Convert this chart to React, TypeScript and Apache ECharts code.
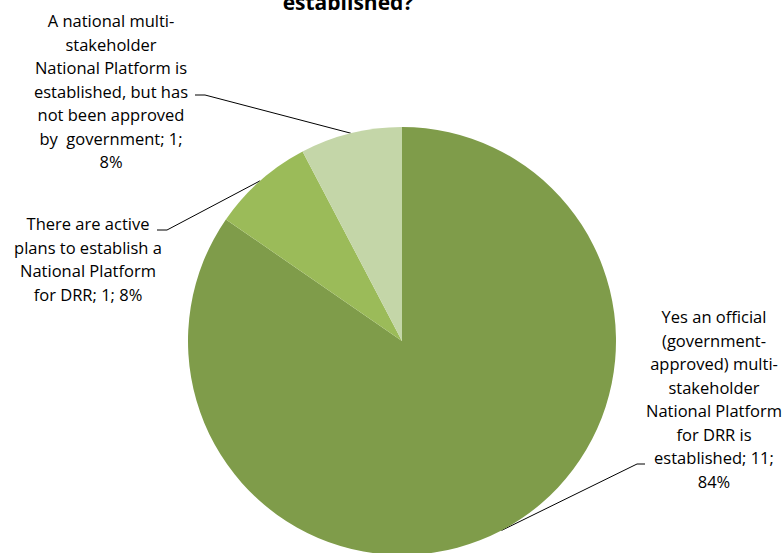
import React, { useEffect, useRef } from "react";
import * as echarts from "echarts";

const titleText = "established?";
const categories = [
  "Yes an official\n(government-\napproved) multi-\nstakeholder\nNational Platform\nfor DRR is\nestablished",
  "There are active\nplans to establish a\nNational Platform\nfor DRR",
  "A national multi-\nstakeholder\nNational Platform is\nestablished, but has\nnot been approved\nby  government",
];
const values = [11, 1, 1];
const percentOnNewLine = [true, false, true];
const colors = ["#7F9C4A", "#9BBB59", "#C4D6A8"];

// label anchor (centre) and leader elbow positions
const labelCenters = [
  [714, 399],
  [88, 259],
  [111, 91],
];
const elbows = [
  [[637, 464], [645, 464]],
  [[167, 230], [157, 230]],
  [[205, 95], [195, 95]],
];

export default function App() {
  const ref = useRef<HTMLDivElement>(null);
  useEffect(() => {
    if (!ref.current) return;
    const chart = echarts.init(ref.current, null, { renderer: "svg" });
    const font = "Open Sans";
    chart.setOption({
      animation: false,
      backgroundColor: "#ffffff",
      graphic: [
        {
          type: "text",
          x: 348,
          y: 12,
          style: {
            text: titleText,
            fill: "#000",
            font: "bold 21px 'Open Sans'",
            textAlign: "center",
            textVerticalAlign: "bottom",
          },
        },
      ],
      series: [
        {
          type: "pie",
          center: [402, 341],
          radius: 214,
          startAngle: 90,
          clockwise: true,
          avoidLabelOverlap: false,
          data: categories.map((n, i) => ({
            name: n,
            value: values[i],
            itemStyle: { color: colors[i] },
          })),
          label: {
            show: true,
            position: "outside",
            color: "#000",
            fontFamily: font,
            fontSize: 16.5,
            lineHeight: 23.5,
            align: "center",
            formatter: (p: any) =>
              `${p.name}; ${p.value};${percentOnNewLine[p.dataIndex] ? "\n" : " "}${Math.round(p.percent)}%`,
          },
          percentPrecision: 0,
          labelLine: {
            show: true,
            lineStyle: { color: "#000", width: 1 },
          },
          labelLayout: (params: any) => {
            const i = params.dataIndex;
            const start = params.labelLinePoints ? params.labelLinePoints[0] : [0, 0];
            return {
              x: labelCenters[i][0],
              y: labelCenters[i][1],
              align: "center",
              verticalAlign: "middle",
              labelLinePoints: [start, elbows[i][0], elbows[i][1]],
            };
          },
        },
      ],
    });
    return () => chart.dispose();
  }, []);
  return (
    <div
      ref={ref}
      style={{ position: "fixed", left: 0, top: 0, width: 784, height: 553 }}
    />
  );
}
